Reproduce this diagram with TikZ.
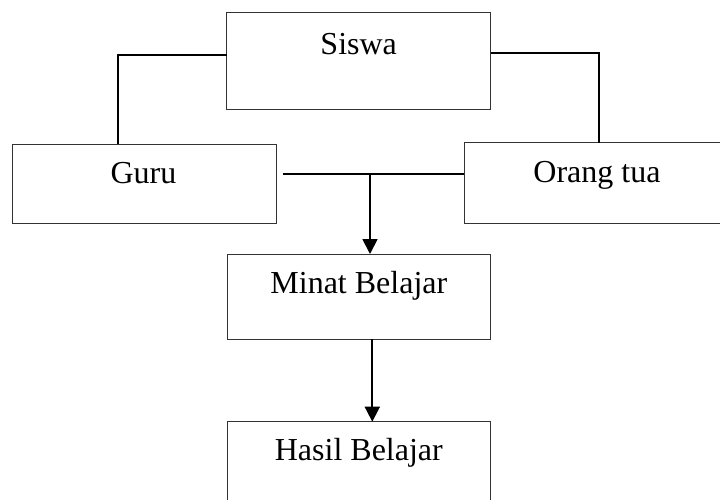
\documentclass[tikz,border=0pt]{standalone}
\usepackage{fontspec}
\setmainfont{Liberation Serif}
\usetikzlibrary{arrows.meta,calc}
\begin{document}
\begin{tikzpicture}[x=1pt,y=-1pt,
  box/.style={draw=black!80,line width=1pt,rectangle,inner sep=0pt,outer sep=0pt,anchor=north west},
  lbl/.style={anchor=base,inner sep=0pt,font=\fontsize{32}{38}\selectfont},
  conn/.style={line width=1.8pt,black},
  arr/.style={conn,-{Triangle[width=15pt,length=15pt]}}]
\useasboundingbox (0,0) rectangle (720,499);
\clip (0,0) rectangle (720,499);
\node[box,minimum width=264pt,minimum height=96.6pt] (siswa) at (226.7,12.7) {};
\node[box,minimum width=264.4pt,minimum height=79pt] (guru) at (12.3,144.3) {};
\node[box,minimum width=265.4pt,minimum height=80.6pt] (orang) at (464.3,142.7) {};
\node[box,minimum width=263.7pt,minimum height=85pt] (minat) at (227,254) {};
\node[box,minimum width=263.7pt,minimum height=85pt] (hasil) at (227,421.7) {};
\node[lbl] (siswaT) at ($(siswa.north)+(0,42)$) {Siswa};
\node[lbl] (guruT) at ($(guru.north)+(-1,39)$) {Guru};
\node[lbl] (orangT) at ($(orang.north)+(0,39.6)$) {Orang tua};
\node[lbl] (minatT) at ($(minat.north)+(0,39.3)$) {Minat Belajar};
\node[lbl] (hasilT) at ($(hasil.north)+(0,39)$) {Hasil Belajar};
\coordinate (lc) at (118,55);
\coordinate (rc) at (599,53);
\coordinate (j) at (370,174);
\coordinate (k) at (372.3,339);
\draw[conn] (siswa.west |- lc) -- (lc) -- (lc |- guru.north);
\draw[conn] (siswa.east |- rc) -- (rc) -- (rc |- orang.north);
\draw[conn] ([xshift=6.3pt]guru.east |- j) -- (orang.west |- j);
\draw[arr] (j) -- (minat.north -| j);
\draw[arr] (minat.south -| k) -- (hasil.north -| k);
\end{tikzpicture}
\end{document}
